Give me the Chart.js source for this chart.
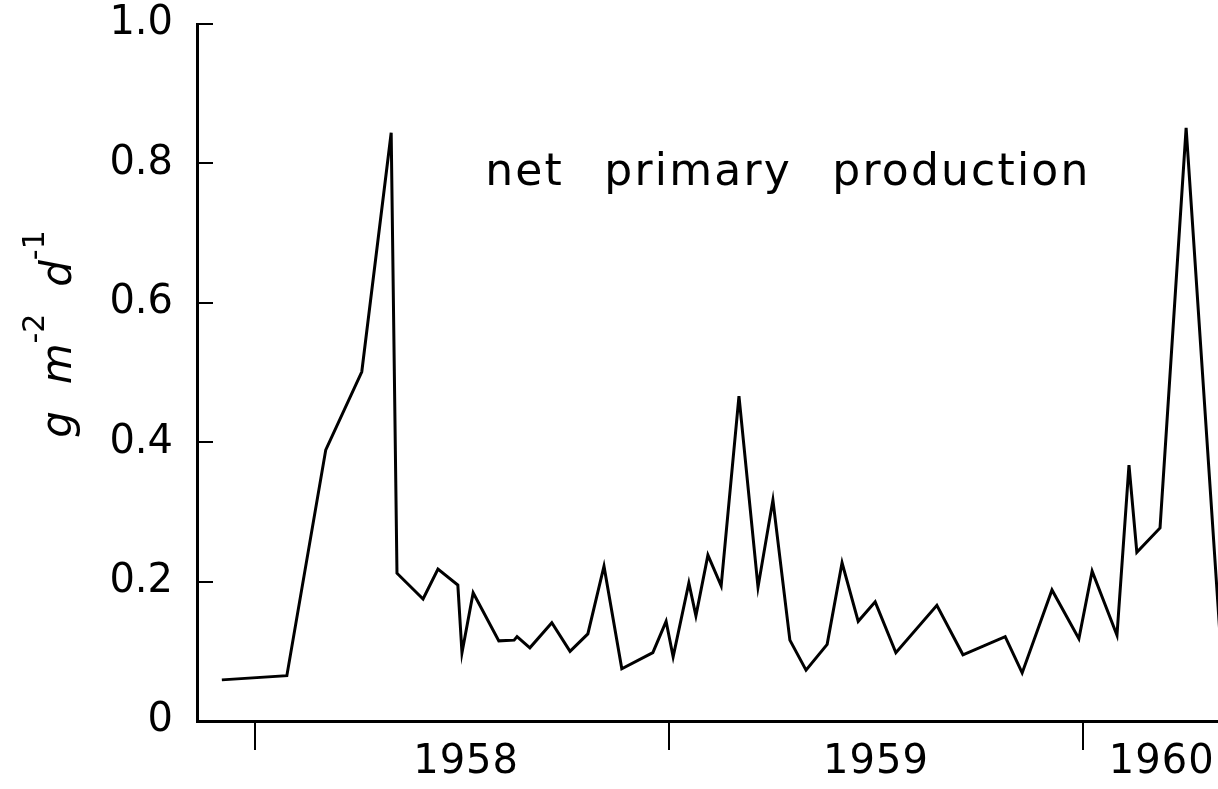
<!DOCTYPE html>
<html>
<head>
<meta charset="utf-8">
<title>Net primary production</title>
<script src="https://cdn.jsdelivr.net/npm/chart.js@4.4.0/dist/chart.umd.min.js"></script>
<style>
  html, body { margin: 0; padding: 0; background: #fff; }
  #wrap { width: 1218px; height: 789px; }
</style>
</head>
<body>
<div id="wrap"><canvas id="nppChart" width="1218" height="789"></canvas></div>
<script>
// sampling dates (decimal years) and net primary production, g m-2 d-1
const sampleDates = [
  1957.920, 1958.077, 1958.171, 1958.258, 1958.329, 1958.343, 1958.406, 1958.442,
  1958.490, 1958.500, 1958.527, 1958.589, 1958.626, 1958.633, 1958.664, 1958.717,
  1958.761, 1958.804, 1958.843, 1958.886, 1958.961, 1958.993, 1959.010, 1959.048,
  1959.065, 1959.094, 1959.126, 1959.169, 1959.215, 1959.251, 1959.292, 1959.331,
  1959.382, 1959.418, 1959.457, 1959.498, 1959.548, 1959.647, 1959.710, 1959.812,
  1959.853, 1959.925, 1959.990, 1960.022, 1960.082, 1960.111, 1960.130, 1960.186,
  1960.249, 1960.330
];
const production = [
  0.059, 0.065, 0.389, 0.501, 0.844, 0.212, 0.175, 0.218,
  0.195, 0.098, 0.184, 0.115, 0.116, 0.121, 0.105, 0.141,
  0.100, 0.125, 0.222, 0.075, 0.098, 0.143, 0.092, 0.198,
  0.151, 0.238, 0.194, 0.466, 0.192, 0.317, 0.116, 0.073,
  0.110, 0.227, 0.143, 0.171, 0.098, 0.166, 0.095, 0.121,
  0.069, 0.188, 0.118, 0.215, 0.123, 0.367, 0.242, 0.277,
  0.851, 0.130
];

const yearTicks = [1958, 1959, 1960];
const yearLabels = ['1958', '1959', '1960'];
const yearLabelAt = [1958.51, 1959.5, 1960.19];
const yTicks = [0, 0.2, 0.4, 0.6, 0.8, 1.0];
const yTickLabels = ['0', '0.2', '0.4', '0.6', '0.8', '1.0'];
const seriesTitle = 'net primary production';

const FONT = '"DejaVu Sans", sans-serif';

// year labels, panel title and the unit label
const textPlugin = {
  id: 'figureText',
  afterDraw(chart) {
    const ctx = chart.ctx;
    const x = chart.scales.x;
    const y = chart.scales.y;
    ctx.save();
    ctx.fillStyle = '#000';

    // years, centred inside each year
    ctx.font = '40px ' + FONT;
    ctx.textAlign = 'center';
    ctx.textBaseline = 'middle';
    ctx.letterSpacing = '1px';
    yearLabels.forEach((lbl, i) => {
      ctx.fillText(lbl, x.getPixelForValue(yearLabelAt[i]), 763);
    });

    // panel title, widely spaced as in the original
    ctx.font = '44px ' + FONT;
    ctx.textAlign = 'left';
    ctx.textBaseline = 'alphabetic';
    ctx.letterSpacing = '2.2px';
    ctx.wordSpacing = '4px';
    ctx.fillText(seriesTitle.replace(/ /g, '  '), x.getPixelForValue(1958.556), y.getPixelForValue(0.769));
    ctx.letterSpacing = '0px';
    ctx.wordSpacing = '0px';

    // unit: g m^-2 d^-1, rotated
    const parts = [
      ['g', 'main'], ['  ', 'main'], ['m', 'main'], ['-2', 'sup'],
      ['  ', 'main'], ['d', 'main'], ['-1', 'sup']
    ];
    const fonts = { main: 'italic 42px ' + FONT, sup: '30px ' + FONT };
    let total = 0;
    parts.forEach(p => { ctx.font = fonts[p[1]]; total += ctx.measureText(p[0]).width; });
    ctx.translate(71, 334);
    ctx.rotate(-Math.PI / 2);
    let pos = -total / 2;
    parts.forEach(p => {
      ctx.font = fonts[p[1]];
      ctx.fillText(p[0], pos, p[1] === 'sup' ? -27 : 0);
      pos += ctx.measureText(p[0]).width;
    });
    ctx.restore();
  }
};

new Chart(document.getElementById('nppChart'), {
  type: 'line',
  data: {
    datasets: [{
      label: seriesTitle,
      data: sampleDates.map((d, i) => ({ x: d, y: production[i] })),
      borderColor: '#000',
      borderWidth: 3,
      pointRadius: 0,
      tension: 0,
      fill: false
    }]
  },
  options: {
    responsive: false,
    animation: false,
    layout: { padding: { top: 24, left: 0, right: 0, bottom: 0 } },
    plugins: {
      legend: { display: false },
      tooltip: { enabled: false }
    },
    scales: {
      x: {
        type: 'linear',
        min: 1957.860,
        max: 1960.326,
        afterBuildTicks: s => { s.ticks = yearTicks.map(v => ({ value: v })); },
        afterFit: s => { s.height = 68; s.paddingLeft = 0; s.paddingRight = 0; },
        ticks: { display: false },
        grid: {
          drawOnChartArea: false,
          drawTicks: true,
          tickLength: 29,
          color: '#000',
          lineWidth: 2
        },
        border: { display: true, color: '#000', width: 3 }
      },
      y: {
        min: 0,
        max: 1.0,
        afterBuildTicks: s => { s.ticks = yTicks.map(v => ({ value: v })); },
        // label padding would otherwise push the plot down
        afterFit: s => { s.width = 197; s.paddingTop = 0; s.paddingBottom = 0; },
        ticks: {
          padding: 40,
          color: '#000',
          font: { family: FONT, size: 40 },
          callback: (v, i) => yTickLabels[i]
        },
        grid: {
          drawOnChartArea: false,
          drawTicks: true,
          tickLength: -16,
          color: '#000',
          lineWidth: 2
        },
        border: { display: true, color: '#000', width: 3 }
      }
    }
  },
  plugins: [textPlugin]
});
</script>
</body>
</html>
